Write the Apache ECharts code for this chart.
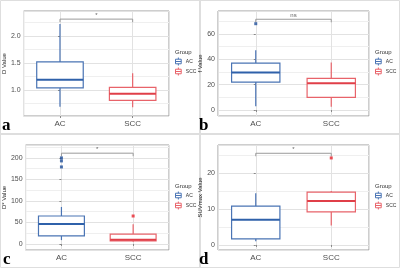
<!DOCTYPE html>
<html>
<head>
<meta charset="utf-8">
<script src="https://cdn.jsdelivr.net/npm/echarts@6/dist/echarts.min.js"></script>
<style>
  html, body { margin: 0; padding: 0; background: #fff; }
  #chart { width: 400px; height: 268px; }
</style>
</head>
<body>
<div id="chart"></div>
<script>
  // group names and per-panel data
  const categories = ['AC', 'SCC']
  const panelLetters = ['a', 'b', 'c', 'd']
  const yNames = ['D Value', 'f Value', 'D* Value', 'SUVmax Value']
  // [min, Q1, median, Q3, max] for AC, SCC
  const boxD = [[0.69, 1.04, 1.19, 1.52, 2.22], [0.68, 0.81, 0.93, 1.05, 1.31]]
  const boxF = [[3, 22, 29.5, 37, 47], [2.5, 10, 21, 25, 37.5]]
  const boxDstar = [[9, 18.6, 46.5, 65, 86], [5, 7, 10, 23, 46]]
  const boxSuv = [[1, 1.7, 7, 10.8, 14.4], [5.4, 9.2, 12.2, 14.7, 15]]
  // outliers: [group index, value]
  const outD = []
  const outF = [[0, 68]]
  const outDstar = [[0, 200], [0, 193], [0, 179], [1, 65]]
  const outSuv = [[1, 24.2]]
  // significance brackets
  const bracketY = [2.31, 71.5, 211, 25.5]
  const bracketDrop = [0.056, 2.4, 7, 0.83]
  const bracketText = ['*', 'ns', '*', '*']
  const yRange = [[0.52, 2.46], [-4.7, 78], [-14, 230], [-1.4, 27.8]]
  const ySplit = [4, 4, 5, 3]
  const yDecimals = [1, 0, 0, 0]

  const boxes = [boxD, boxF, boxDstar, boxSuv]
  const outliers = [outD, outF, outDstar, outSuv]

  const colors = ['#4a74b4', '#e8636a']
  const medianColors = ['#2f61aa', '#e03f48']
  const outlierColors = ['#1f4f9a', '#e8262e']

  const grids = [
    { left: 21, top: 11, width: 148, height: 105 },
    { left: 218, top: 11, width: 151, height: 105 },
    { left: 22, top: 145, width: 147, height: 105 },
    { left: 218, top: 145, width: 151, height: 105 }
  ]
  const nameGaps = [15, 13, 16, 13]

  function renderBox(params, api) {
    let k = api.value(0)
    let x = api.coord([k, api.value(3)])[0]
    let half = api.size([1, 0])[0] * 0.32
    let yMin = api.coord([k, api.value(1)])[1]
    let yQ1 = api.coord([k, api.value(2)])[1]
    let yMed = api.coord([k, api.value(3)])[1]
    let yQ3 = api.coord([k, api.value(4)])[1]
    let yMax = api.coord([k, api.value(5)])[1]
    let c = colors[k]
    let line = { stroke: c, lineWidth: 1.2 }
    return {
      type: 'group',
      children: [
        { type: 'line', shape: { x1: x, y1: yQ3, x2: x, y2: yMax }, style: line },
        { type: 'line', shape: { x1: x, y1: yQ1, x2: x, y2: yMin }, style: line },
        { type: 'rect', shape: { x: x - half, y: yQ3, width: 2 * half, height: yQ1 - yQ3 }, style: { fill: '#fff', stroke: c, lineWidth: 1.2 } },
        { type: 'line', shape: { x1: x - half, y1: yMed, x2: x + half, y2: yMed }, style: { stroke: medianColors[k], lineWidth: 2 } }
      ]
    }
  }

  let xAxis = []
  let yAxis = []
  let series = []
  let titles = []
  let legends = []
  let gridOpts = []

  grids.forEach((g, i) => {
    gridOpts.push({ ...g, show: true, borderColor: '#9c9c9c', borderWidth: 1 })
    xAxis.push({
      gridIndex: i,
      type: 'category',
      data: categories,
      axisLine: { show: false },
      axisTick: { show: true, alignWithLabel: true, length: 2, lineStyle: { color: '#888' } },
      axisLabel: { fontSize: 8, color: '#4d4d4d', margin: 4, fontFamily: 'Liberation Sans' },
      splitLine: { show: false }
    })
    xAxis.push({
      gridIndex: i,
      type: 'value',
      min: -0.5,
      max: 1.5,
      splitNumber: 2,
      axisLine: { show: false },
      axisTick: { show: false },
      axisLabel: { show: false },
      splitLine: { show: true, lineStyle: { color: '#e2e2e2', width: 1 } }
    })
    yAxis.push({
      gridIndex: i,
      type: 'value',
      min: yRange[i][0],
      max: yRange[i][1],
      splitNumber: ySplit[i],
      name: yNames[i],
      nameLocation: 'middle',
      nameGap: nameGaps[i],
      nameTextStyle: { fontSize: 6, color: '#222', fontFamily: 'Liberation Sans' },
      axisLine: { show: false },
      axisTick: { show: true, length: 2, lineStyle: { color: '#888' } },
      axisLabel: {
        fontSize: 7, color: '#4d4d4d', margin: 3, showMinLabel: false, showMaxLabel: false,
        fontFamily: 'Liberation Sans',
        formatter: v => v.toFixed(yDecimals[i])
      },
      splitLine: { show: true, lineStyle: { color: '#e2e2e2', width: 1 } },
      minorTick: { show: false, splitNumber: 2 },
      minorSplitLine: { show: true, lineStyle: { color: '#efefef', width: 1 } }
    })

    series.push({
      type: 'custom',
      xAxisIndex: 2 * i,
      yAxisIndex: i,
      z: 3,
      silent: true,
      renderItem: renderBox,
      encode: { x: 0, y: [1, 2, 3, 4, 5] },
      data: boxes[i].map((b, k) => [k, ...b])
    })
    series.push({
      type: 'scatter',
      xAxisIndex: 2 * i,
      yAxisIndex: i,
      symbol: 'rect',
      symbolSize: 3,
      z: 5,
      silent: true,
      data: outliers[i].map(o => ({ value: o, itemStyle: { color: outlierColors[o[0]] } }))
    })
    let y = bracketY[i]
    let d = bracketDrop[i]
    series.push({
      type: 'line',
      xAxisIndex: 2 * i + 1,
      yAxisIndex: i,
      symbol: 'none',
      silent: true,
      lineStyle: { color: '#9a9a9a', width: 1 },
      data: [[0, y - d], [0, y], [1, y], [1, y - d]]
    })
    series.push({
      type: 'scatter',
      xAxisIndex: 2 * i + 1,
      yAxisIndex: i,
      symbolSize: 0,
      silent: true,
      label: {
        show: true,
        position: 'top',
        distance: 1,
        formatter: bracketText[i],
        fontSize: 6,
        color: '#333',
        fontFamily: 'Liberation Sans'
      },
      data: [[0.5, y]]
    })

    let lx = g.left + g.width + 6
    titles.push({
      text: 'Group',
      left: lx,
      top: g.top + 38,
      padding: 0,
      textStyle: { fontSize: 6, fontWeight: 'normal', color: '#333', fontFamily: 'Liberation Sans' }
    })
    legends.push({
      data: categories.map((c, k) => ({
        name: c,
        itemStyle: { color: '#fff', borderColor: colors[k], borderWidth: 1 }
      })),
      orient: 'vertical',
      left: lx,
      top: g.top + 46,
      padding: 0,
      itemGap: 1,
      itemWidth: 9,
      itemHeight: 8,
      icon: 'path://M5,0V3M0,3H10V11H0ZM0,7H10M5,11V14',
      textStyle: { fontSize: 5, color: '#333', fontFamily: 'Liberation Sans', padding: [0, 0, 0, -2] },
      selectedMode: false
    })
    titles.push({
      text: panelLetters[i],
      left: g.left - 19,
      top: g.top + 106,
      padding: 0,
      textStyle: { fontSize: 17, fontWeight: 'bold', color: '#000', fontFamily: 'Liberation Serif' }
    })
  })

  // hidden grid carrying the legend entries
  gridOpts.push({ left: 0, top: 0, width: 1, height: 1, show: false })
  xAxis.push({ gridIndex: 4, type: 'category', data: categories, show: false })
  yAxis.push({ gridIndex: 4, type: 'value', show: false })
  categories.forEach((c, k) => {
    series.push({
      name: c,
      type: 'bar',
      xAxisIndex: 8,
      yAxisIndex: 4,
      itemStyle: { color: '#fff', borderColor: colors[k], borderWidth: 1 },
      data: []
    })
  })

  let chart = echarts.init(document.getElementById('chart'), null, { renderer: 'canvas' })
  chart.setOption({
    animation: false,
    backgroundColor: '#fff',
    title: titles,
    legend: legends,
    grid: gridOpts,
    xAxis: xAxis,
    yAxis: yAxis,
    series: series,
    graphic: [
      { type: 'rect', shape: { x: 199, y: 0, width: 2, height: 268 }, style: { fill: '#dedede' }, silent: true },
      { type: 'rect', shape: { x: 0, y: 133, width: 400, height: 2 }, style: { fill: '#dedede' }, silent: true },
      { type: 'rect', shape: { x: 0.5, y: 0.5, width: 399, height: 267 }, style: { fill: 'none', stroke: '#dedede', lineWidth: 1 }, silent: true }
    ]
  })
</script>
</body>
</html>
